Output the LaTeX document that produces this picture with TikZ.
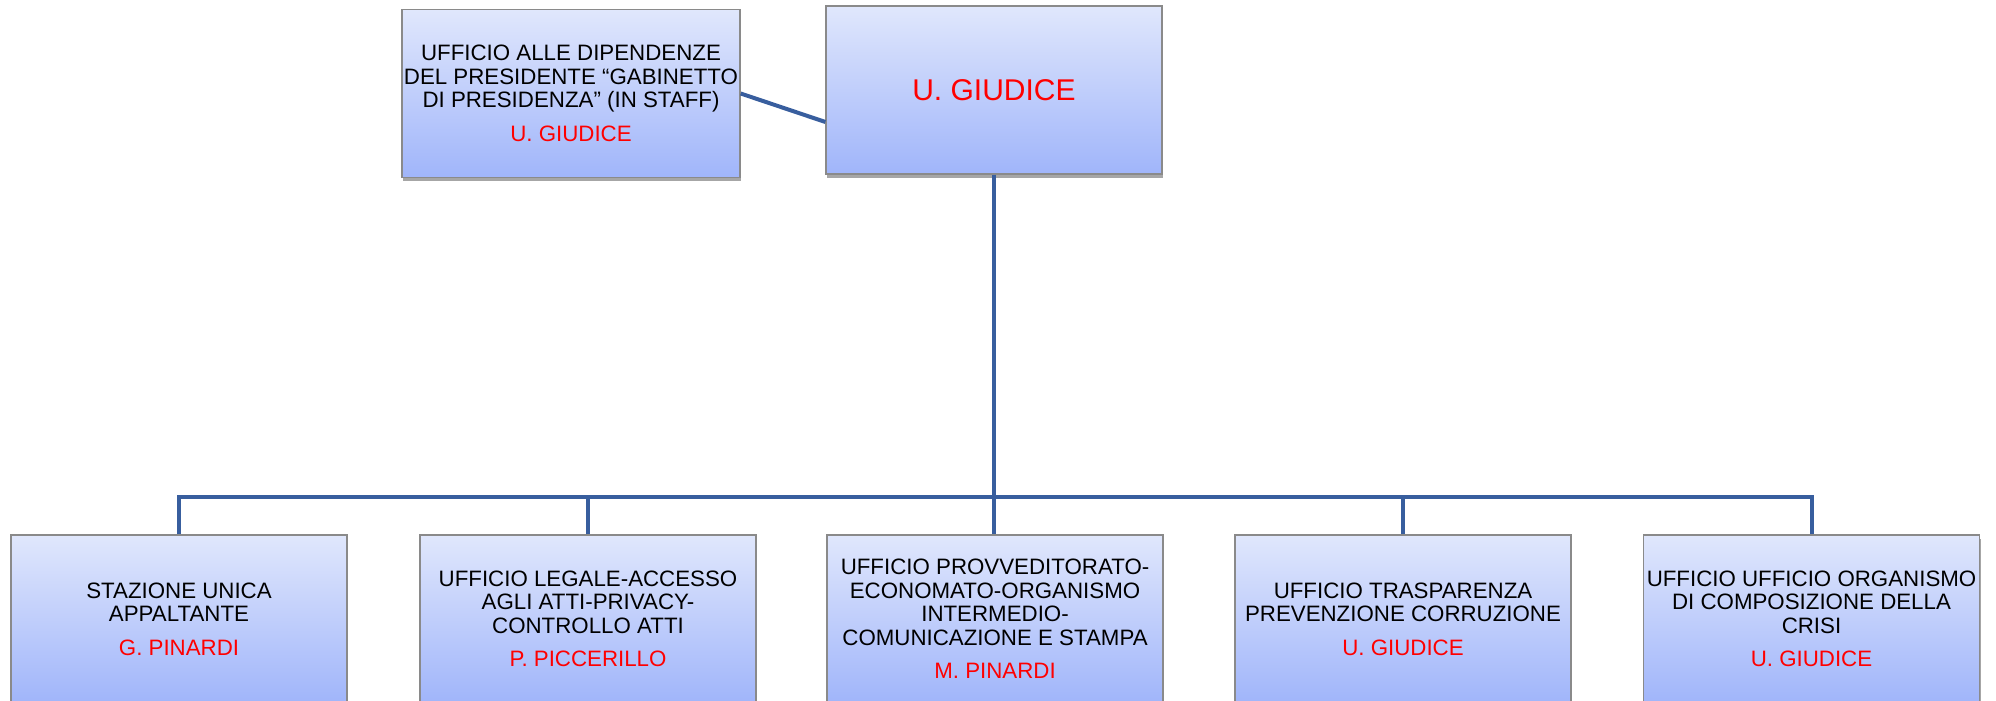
\documentclass[tikz,border=0pt]{standalone}
\usepackage{fontspec}
\setmainfont{Liberation Sans}
\usetikzlibrary{shadows}
\definecolor{boxtop}{HTML}{E0E7FC}
\definecolor{boxbot}{HTML}{A0B5FA}
\definecolor{boxborder}{HTML}{8A8A8A}
\definecolor{linkblue}{RGB}{56,94,158}
\definecolor{namered}{HTML}{FF0000}
\newcommand{\who}[1]{\\[5pt]\textcolor{namered}{#1}}
\tikzset{
  orgbox/.style={draw=boxborder, line width=0.6pt, top color=boxtop, bottom color=boxbot,
    minimum width=168pt, minimum height=84pt, inner sep=1pt, align=center,
    font=\fontsize{11.15}{11.75}\selectfont,
    drop shadow={shadow xshift=0.6pt, shadow yshift=-1.8pt, opacity=0.35, fill=black}},
  link/.style={draw=linkblue, line width=2pt, line join=miter},
}
\begin{document}
\begin{tikzpicture}[x=0.5pt,y=-0.5pt]
\useasboundingbox (0,0) rectangle (1996,701);
\node[orgbox] (staff) at (571,93.5) {UFFICIO ALLE DIPENDENZE\\DEL PRESIDENTE “GABINETTO\\DI PRESIDENZA” (IN STAFF)\who{U. GIUDICE}};
\node[orgbox, font=\fontsize{15}{16}\selectfont, text=namered] (main) at (994,90) {U. GIUDICE};
\node[orgbox] (b1) at (179,619) {STAZIONE UNICA\\APPALTANTE\who{G. PINARDI}};
\node[orgbox] (b2) at (588,619) {UFFICIO LEGALE-ACCESSO\\AGLI ATTI-PRIVACY-\\CONTROLLO ATTI\who{P. PICCERILLO}};
\node[orgbox] (b3) at (995,619) {UFFICIO PROVVEDITORATO-\\ECONOMATO-ORGANISMO\\INTERMEDIO-\\COMUNICAZIONE E STAMPA\who{M. PINARDI}};
\node[orgbox] (b4) at (1403,619) {UFFICIO TRASPARENZA\\PREVENZIONE CORRUZIONE\who{U. GIUDICE}};
\node[orgbox] (b5) at (1811.5,619) {UFFICIO UFFICIO ORGANISMO\\DI COMPOSIZIONE DELLA\\CRISI\who{U. GIUDICE}};
\coordinate (bus) at (994,497);
\draw[link] (staff.east) -- ([yshift=-16pt]main.west);
\draw[link] (main.south) -- (main.south |- b3.north);
\draw[link] (b1.north) -- (b1.north |- bus) -- (b5.north |- bus) -- (b5.north);
\draw[link] (b2.north) -- (b2.north |- bus);
\draw[link] (b4.north) -- (b4.north |- bus);
\end{tikzpicture}
\end{document}
